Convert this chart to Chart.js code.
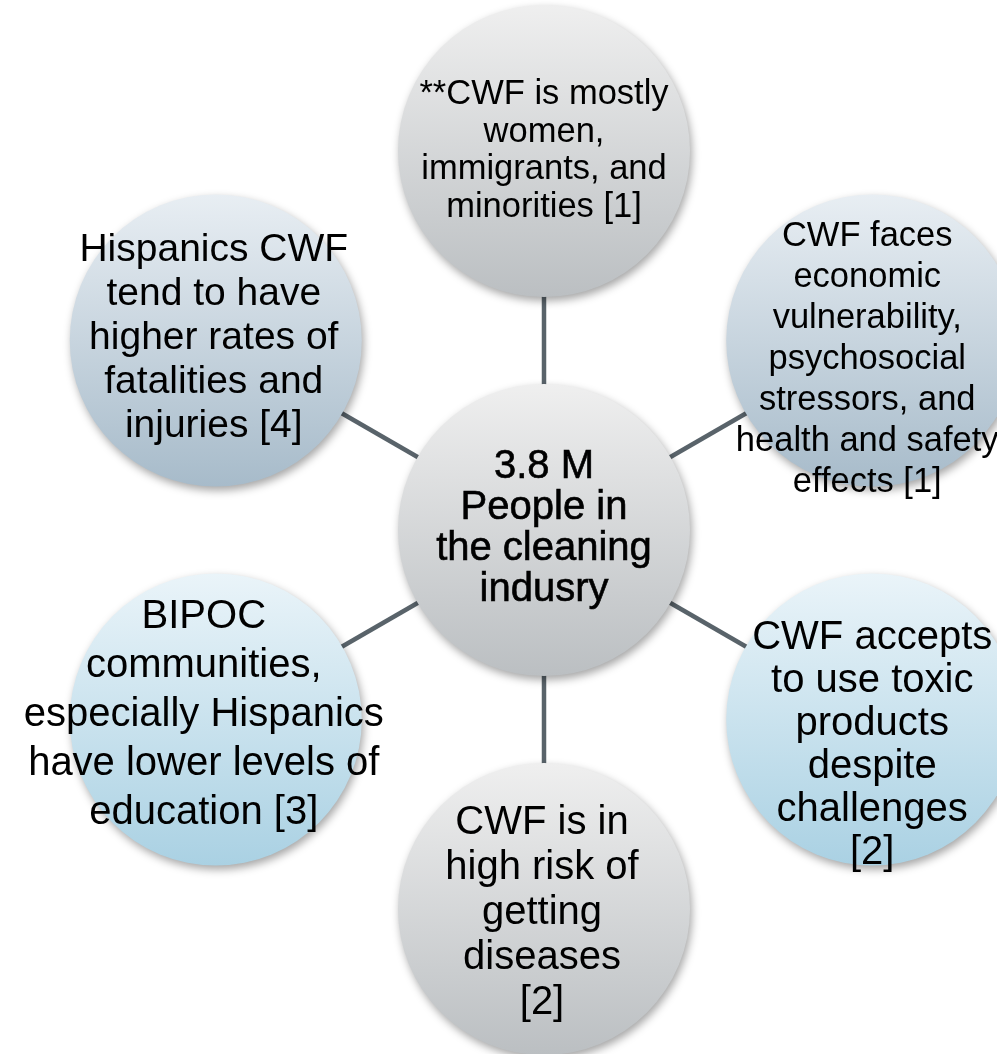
<!DOCTYPE html>
<html>
<head>
<meta charset="utf-8">
<script src="https://cdn.jsdelivr.net/npm/chart.js@4.4.0/dist/chart.umd.min.js"></script>
<style>
  html, body { margin: 0; padding: 0; background: #ffffff; }
</style>
</head>
<body>
<canvas id="diagram" width="997" height="1054"></canvas>
<script>
// Radial diagram - outer nodes go clockwise from the top, same order as the radar scale

const spokeLabels = [
    ['**CWF is mostly', 'women,', 'immigrants, and', 'minorities [1]'],
    ['CWF faces', 'economic', 'vulnerability,', 'psychosocial', 'stressors, and', 'health and safety', 'effects [1]'],
    ['CWF accepts', 'to use toxic', 'products', 'despite', 'challenges', '[2]'],
    ['CWF is in', 'high risk of', 'getting', 'diseases', '[2]'],
    ['BIPOC', 'communities,', 'especially Hispanics', 'have lower levels of', 'education [3]'],
    ['Hispanics CWF', 'tend to have', 'higher rates of', 'fatalities and', 'injuries [4]']
]
const spokeValues = [1, 1, 1, 1, 1, 1]   // every spoke has the same length

const hubLabel = ['3.8 M', 'People in', 'the cleaning', 'indusry']
const hubValues = [0, null, null, null, null, null]   // one circle sitting on the centre

// looks
let nodeRadius = 146
const fills = {
    gray: ['#efefef', '#bbbfc2'],
    steel: ['#e8eef3', '#a7bbca'],
    sky: ['#eaf4f9', '#aad1e3']
}
const spokeFill = ['gray', 'steel', 'sky', 'gray', 'sky', 'steel']
const spokeText = [
    {size: 34.5, lh: 37.5, dx: 0, dy: 0},
    {size: 34.5, lh: 41, dx: -5, dy: 19},
    {size: 40, lh: 43, dx: 0, dy: 26},
    {size: 40, lh: 45, dx: -2, dy: 4},
    {size: 40, lh: 49, dx: -12, dy: -5},
    {size: 39, lh: 44, dx: -2, dy: -2}
]
const hubText = {size: 40, lh: 41, dx: 0, dy: -2}
let fontFamily = '"Liberation Sans", Arial, sans-serif'

let gradientFor = function(ctx, y, stops) {
    let g = ctx.createLinearGradient(0, y - nodeRadius, 0, y + nodeRadius)
    g.addColorStop(0, stops[0])
    g.addColorStop(1, stops[1])
    return g
}

let nodeFill = function(c, values, fillNames) {
    let stops = fills[fillNames[c.dataIndex] || 'gray']
    let scale = c.chart.scales.r
    if (c.type !== 'data' || !scale) return stops[1]
    let p = scale.getPointPositionForValue(c.dataIndex, values[c.dataIndex])
    if (isNaN(p.y)) return stops[1]
    return gradientFor(c.chart.ctx, p.y, stops)
}

let drawLines = function(ctx, lines, x, y, st) {
    ctx.font = st.size + 'px ' + fontFamily
    let n = lines.length
    lines.forEach((line, i) => {
        ctx.fillText(line, x + st.dx, y + st.dy + (i - (n - 1) / 2) * st.lh)
    })
}

// shadows under the circles, then the text on top
const nodePlugin = {
    id: 'nodePlugin',
    beforeDatasetsDraw(chart) {
        let ctx = chart.ctx
        ctx.save()
        ctx.shadowColor = 'rgba(0, 0, 0, 0.35)'
        ctx.shadowBlur = 9
        ctx.shadowOffsetX = 2
        ctx.shadowOffsetY = 4
    },
    afterDatasetsDraw(chart) {
        let ctx = chart.ctx
        ctx.restore()
        ctx.save()
        ctx.fillStyle = '#000000'
        ctx.textAlign = 'center'
        ctx.textBaseline = 'middle'

        let spokes = chart.getDatasetMeta(0).data
        spokes.forEach((pt, i) => {
            drawLines(ctx, spokeLabels[i], pt.x, pt.y, spokeText[i])
        })

        let hub = chart.getDatasetMeta(1).data[0]
        ctx.strokeStyle = '#000000'
        ctx.lineWidth = 0.6
        ctx.font = hubText.size + 'px ' + fontFamily
        let n = hubLabel.length
        hubLabel.forEach((line, i) => {
            let ty = hub.y + hubText.dy + (i - (n - 1) / 2) * hubText.lh
            ctx.fillText(line, hub.x + hubText.dx, ty)
            ctx.strokeText(line, hub.x + hubText.dx, ty)
        })
        ctx.restore()
    }
}

let diagram = new Chart(document.getElementById('diagram').getContext('2d'), {
    type: 'radar',
    plugins: [nodePlugin],
    data: {
        labels: spokeLabels,
        datasets: [
            {
                label: 'Spokes',
                data: spokeValues,
                showLine: false,
                fill: false,
                clip: false,
                pointRadius: nodeRadius,
                pointBorderWidth: 0,
                pointBackgroundColor: (c) => nodeFill(c, spokeValues, spokeFill)
            },
            {
                label: 'Hub',
                data: hubValues,
                showLine: false,
                fill: false,
                clip: false,
                pointRadius: nodeRadius,
                pointBorderWidth: 0,
                pointBackgroundColor: (c) => nodeFill(c, hubValues, ['gray'])
            }
        ]
    },
    options: {
        responsive: false,
        animation: false,
        events: [],
        layout: {
            padding: {left: 165, right: 74, top: 151, bottom: 145}
        },
        plugins: {
            legend: {display: false},
            tooltip: {enabled: false}
        },
        scales: {
            r: {
                min: 0,
                max: 1,
                grid: {display: false},
                ticks: {display: false},
                pointLabels: {display: false},
                angleLines: {
                    display: true,
                    color: '#59636a',
                    lineWidth: 4.5
                }
            }
        }
    }
})
</script>
</body>
</html>
